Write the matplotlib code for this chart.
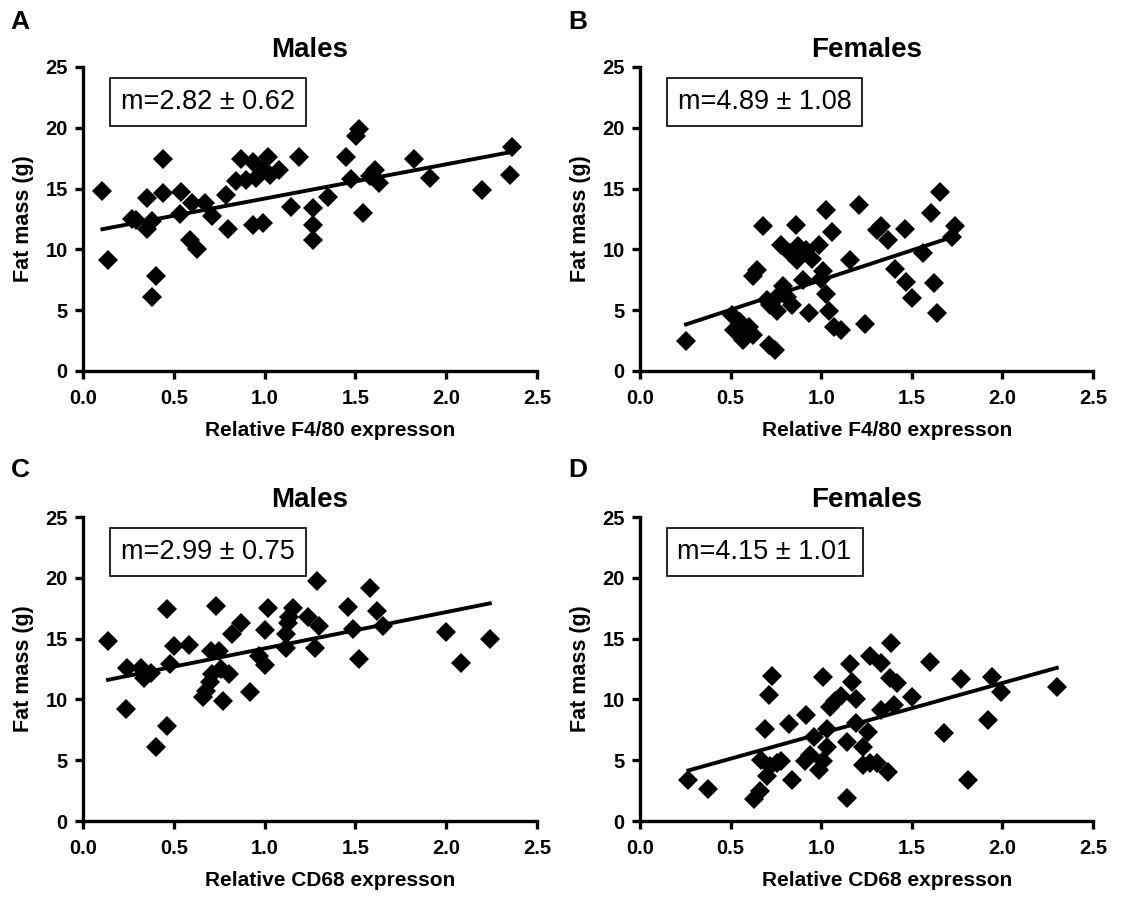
import numpy as np
import matplotlib

matplotlib.use('Agg')
import matplotlib.pyplot as plt

plt.rcParams['font.family'] = ['Liberation Sans', 'DejaVu Sans']

# Panel A: males, F4/80
a_x = [0.107, 0.14, 0.27, 0.29, 0.355, 0.355, 0.38, 0.44, 0.44, 0.40, 0.38,
       0.54, 0.535, 0.59, 0.63, 0.60, 0.67, 0.71, 0.79, 0.80, 0.87, 0.84,
       0.90, 0.935, 0.95, 0.99, 1.03, 1.08, 1.02, 0.935, 0.99, 1.146, 1.19,
       1.265, 1.265, 1.265, 1.35, 1.446, 1.505, 1.52, 1.477, 1.54, 1.58,
       1.61, 1.63, 1.82, 1.91, 2.195, 2.36, 2.35]
a_y = [14.8, 9.1, 12.5, 12.4, 14.2, 11.7, 12.3, 17.4, 14.6, 7.8, 6.05,
       14.7, 12.9, 10.8, 10.0, 13.8, 13.8, 12.75, 14.5, 11.65, 17.4, 15.6,
       15.7, 17.2, 15.85, 16.5, 16.1, 16.5, 17.6, 12.0, 12.15, 13.5, 17.6,
       13.4, 12.0, 10.8, 14.3, 17.6, 19.3, 19.9, 15.75, 13.0, 16.0,
       16.5, 15.5, 17.4, 15.9, 14.9, 18.4, 16.1]

# Panel B: females, F4/80
b_x = [0.254, 0.506, 0.55, 0.52, 0.60, 0.626, 0.57, 0.647, 0.626, 0.677,
       0.70, 0.72, 0.754, 0.71, 0.745, 0.76, 0.78, 0.79, 0.81, 0.84, 0.83,
       0.86, 0.873, 0.865, 0.90, 0.915, 0.93, 0.95, 0.99, 1.0, 1.01, 1.026,
       1.026, 1.045, 1.058, 1.07, 1.11, 1.16, 1.21, 1.24, 1.306, 1.33,
       1.37, 1.46, 1.41, 1.466, 1.50, 1.56, 1.606, 1.62, 1.64, 1.656,
       1.72, 1.74]
b_y = [2.47, 4.6, 4.05, 3.4, 3.6, 2.95, 2.55, 8.3, 7.8, 11.9,
       5.85, 5.4, 4.9, 2.1, 1.7, 6.2, 10.4, 6.95, 6.1, 5.4, 9.7,
       12.0, 10.3, 9.1, 7.5, 9.95, 4.8, 9.25, 10.4, 7.6, 8.2, 6.3,
       13.2, 4.9, 11.4, 3.6, 3.4, 9.1, 13.65, 3.9, 11.6, 11.9,
       10.8, 11.7, 8.35, 7.3, 6.0, 9.7, 13.0, 7.2, 4.75, 14.7,
       11.05, 11.95]

# Panel C: males, CD68
c_x = [0.138, 0.235, 0.245, 0.318, 0.336, 0.374, 0.40, 0.46, 0.46, 0.48,
       0.50, 0.585, 0.66, 0.68, 0.70, 0.705, 0.71, 0.73, 0.75, 0.76, 0.77,
       0.806, 0.82, 0.87, 0.92, 0.97, 1.0, 1.0, 1.017, 1.12, 1.12, 1.127,
       1.136, 1.155, 1.24, 1.275, 1.29, 1.30, 1.46, 1.486, 1.52, 1.58,
       1.62, 1.65, 2.0, 2.08, 2.24]
c_y = [14.8, 9.2, 12.55, 12.55, 11.8, 12.2, 6.05, 7.85, 17.4, 12.9,
       14.4, 14.5, 10.2, 10.7, 11.4, 14.0, 12.1, 17.7, 14.0, 12.5, 9.9,
       12.1, 15.4, 16.3, 10.6, 13.6, 12.8, 15.7, 17.5, 14.2, 15.4, 16.3,
       16.8, 17.5, 16.8, 14.2, 19.7, 16.0, 17.6, 15.8, 13.3, 19.2,
       17.3, 16.0, 15.55, 13.0, 15.0]

# Panel D: females, CD68
d_x = [0.267, 0.377, 0.727, 0.71, 0.69, 0.824, 0.914, 1.01, 0.67, 0.717,
       0.754, 0.78, 0.70, 0.66, 0.63, 0.837, 0.91, 0.94, 0.96, 1.01, 0.99,
       1.03, 1.03, 1.05, 1.076, 1.11, 1.16, 1.17, 1.19, 1.14, 1.19, 1.23,
       1.23, 1.27, 1.31, 1.37, 1.14, 1.26, 1.27, 1.33, 1.385, 1.38, 1.42,
       1.50, 1.33, 1.40, 1.60, 1.77, 1.94, 1.99, 2.30, 1.92, 1.68, 1.81]
d_y = [3.35, 2.6, 11.95, 10.4, 7.6, 8.0, 8.7, 11.85, 5.0, 4.5,
       4.8, 4.9, 3.7, 2.5, 1.8, 3.35, 4.9, 5.4, 6.9, 4.9, 4.2,
       6.1, 7.6, 9.4, 9.9, 10.3, 12.9, 11.4, 10.0, 6.5, 8.1, 6.1,
       4.6, 4.8, 4.8, 4.0, 1.9, 7.3, 13.6, 13.0, 14.6, 11.75, 11.35,
       10.2, 9.1, 9.5, 13.1, 11.7, 11.85, 10.6, 11.0, 8.3, 7.2, 3.4]

letters = ['A', 'B', 'C', 'D']
titles = ['Males', 'Females', 'Males', 'Females']
xlabels = ['Relative F4/80 expresson', 'Relative F4/80 expresson',
           'Relative CD68 expresson', 'Relative CD68 expresson']
slopes = [2.82, 4.89, 2.99, 4.15]
slope_err = [0.62, 1.08, 0.75, 1.01]
intercepts = [11.36, 2.59, 11.2, 3.05]
xticks = [0.0, 0.5, 1.0, 1.5, 2.0, 2.5]
yticks = [0, 5, 10, 15, 20, 25]

panels = [(a_x, a_y), (b_x, b_y), (c_x, c_y), (d_x, d_y)]

fig = plt.figure(figsize=(11.22, 8.97), dpi=100)
W, H = 1122.0, 897.0
# axes boxes in pixels: left, top(y of 25), right, bottom(y of 0)
boxes = [(83, 67, 537, 371), (640, 67, 1093, 371),
         (83, 517, 537, 821), (640, 517, 1093, 821)]
letter_pos = [(20, 22), (578, 22), (20, 470), (578, 470)]

for i, (xs, ys) in enumerate(panels):
    l, t, r, b = boxes[i]
    ax = fig.add_axes([l / W, 1 - b / H, (r - l) / W, (b - t) / H])
    ax.plot(xs, ys, linestyle='none', marker='D', markersize=10,
            color='black', markeredgewidth=0, clip_on=False)
    xa = np.array([min(xs), max(xs)])
    ax.plot(xa, intercepts[i] + slopes[i] * xa, color='black', linewidth=2.8)

    ax.set_xlim(0, 2.5)
    ax.set_ylim(0, 25)
    ax.set_xticks(xticks)
    ax.set_xticklabels(['%.1f' % v for v in xticks])
    ax.set_yticks(yticks)
    for side in ['top', 'right']:
        ax.spines[side].set_visible(False)
    for side in ['left', 'bottom']:
        ax.spines[side].set_linewidth(2.4)
    ax.tick_params(direction='out', length=6, width=2.4, labelsize=14.5, pad=5)
    ax.tick_params(axis='x', pad=7)
    for lab in ax.get_xticklabels() + ax.get_yticklabels():
        lab.set_fontweight('bold')

    ax.set_xlabel(xlabels[i], fontsize=15, fontweight='bold')
    ax.xaxis.set_label_coords(0.545, -0.165)
    ax.set_ylabel('Fat mass (g)', fontsize=15.5, fontweight='bold', labelpad=8)
    ax.set_title(titles[i], fontsize=20, fontweight='bold', pad=7)

    ax.text(0.275, 0.885, 'm=%.2f ± %.2f' % (slopes[i], slope_err[i]),
            transform=ax.transAxes, ha='center', va='center', fontsize=19.5,
            bbox=dict(boxstyle='square,pad=0.4', facecolor='white',
                      edgecolor='black', linewidth=1.2))

    fig.text(letter_pos[i][0] / W, 1 - letter_pos[i][1] / H, letters[i],
             fontsize=19, fontweight='bold', ha='center', va='center')

fig.savefig('out.png', dpi=100)
plt.close(fig)
